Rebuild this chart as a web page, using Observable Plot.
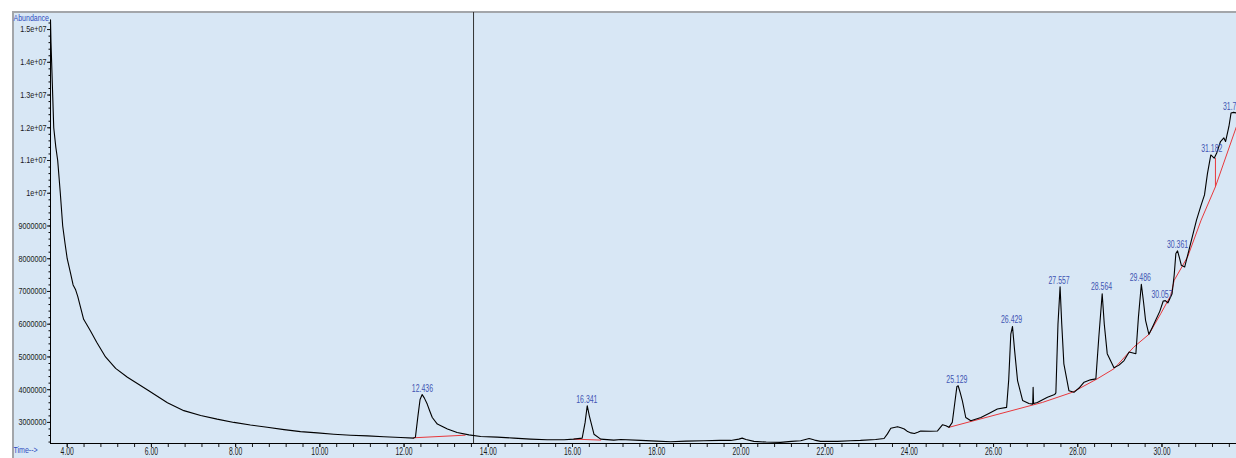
<!DOCTYPE html>
<html>
<head>
<meta charset="utf-8">
<script src="https://cdn.jsdelivr.net/npm/d3@7"></script>
<script src="https://cdn.jsdelivr.net/npm/@observablehq/plot@0.6"></script>
<style>
  html, body { margin: 0; padding: 0; background: #ffffff; }
  #wrap { position: relative; width: 1236px; height: 458px; overflow: hidden; }
  #bg { position: absolute; left: 12px; top: 11px; right: 0; bottom: 0;
        background: #d8e7f5; border-top: 2px solid #a3a6aa; border-left: 2px solid #a3a6aa; }
  #chart { position: absolute; left: 0; top: 0; }
</style>
</head>
<body>
<div id="wrap"><div id="bg"></div><div id="chart"></div></div>
<script>
// ---- Chromatogram trace (retention time in minutes, abundance) ----
const traceTime = [
  3.603, 3.615, 3.63, 3.655, 3.68, 3.73, 3.774, 3.836, 3.893, 3.95, 4.00, 4.08, 4.14, 4.20, 4.25,
  4.32, 4.39, 4.46, 4.55, 4.70, 4.91, 5.15, 5.43, 5.90, 6.38, 6.77, 7.17, 7.56, 7.96,
  8.35, 8.75, 9.15, 9.54, 9.94, 10.33, 10.73, 11.13, 11.52, 11.92, 12.23, 12.27, 12.33, 12.38, 12.43, 12.48,
  12.55, 12.61, 12.67, 12.79, 13.03, 13.26, 13.54, 13.82, 14.21, 14.61, 15.00, 15.40, 15.80, 16.03,
  16.23, 16.30, 16.35, 16.40, 16.43, 16.51, 16.67, 16.98, 17.15, 17.62, 18.00, 18.33, 18.70, 19.12,
  19.50, 19.76, 19.95, 20.03, 20.12, 20.31, 20.60, 20.94, 21.20, 21.42, 21.62, 21.75, 21.89, 22.29,
  22.60, 22.84, 23.20, 23.40, 23.48, 23.56, 23.72, 23.80, 23.88, 23.96, 24.04, 24.12, 24.20, 24.27,
  24.50, 24.67, 24.79, 24.87, 24.94, 25.02, 25.08, 25.13, 25.16, 25.21, 25.26, 25.34, 25.46, 25.70,
  25.90, 26.09, 26.31, 26.36, 26.41, 26.45, 26.50, 26.57, 26.69, 26.84, 26.93, 26.94, 26.95, 27.04,
  27.28, 27.45, 27.48, 27.53, 27.58, 27.62, 27.67, 27.79, 27.91, 28.03, 28.15, 28.30, 28.43, 28.50,
  28.58, 28.63, 28.70, 28.86, 28.98, 29.10, 29.22, 29.38, 29.44, 29.51, 29.56, 29.61, 29.69, 29.77,
  29.85, 29.95, 30.03, 30.08, 30.14, 30.24, 30.29, 30.33, 30.37, 30.42, 30.46, 30.54, 30.66, 30.82,
  30.92, 31.01, 31.08, 31.16, 31.24, 31.30, 31.39, 31.47, 31.51, 31.59, 31.64, 31.70, 31.77
];
const traceAbundance = [
  15300000, 14600000, 14000000, 13000000, 12000000, 11400000, 11000000, 10000000, 9000000, 8450000, 8000000, 7550000, 7200000, 7050000, 6850000,
  6500000, 6150000, 6000000, 5800000, 5450000, 5000000, 4650000, 4380000, 4000000, 3600000, 3360000, 3210000, 3100000, 3000000,
  2920000, 2850000, 2780000, 2720000, 2680000, 2640000, 2610000, 2590000, 2560000, 2540000, 2520000, 2550000, 3200000, 3700000, 3850000, 3750000,
  3560000, 3350000, 3150000, 2950000, 2800000, 2690000, 2620000, 2570000, 2550000, 2520000, 2490000, 2470000, 2470000, 2490000,
  2520000, 3000000, 3510000, 3200000, 3050000, 2640000, 2490000, 2460000, 2480000, 2450000, 2430000, 2410000, 2430000, 2440000,
  2450000, 2450000, 2490000, 2520000, 2480000, 2420000, 2400000, 2390000, 2420000, 2440000, 2510000, 2460000, 2420000, 2420000,
  2440000, 2450000, 2480000, 2510000, 2650000, 2820000, 2870000, 2840000, 2800000, 2720000, 2680000, 2660000, 2700000, 2740000,
  2730000, 2740000, 2930000, 2900000, 2850000, 3000000, 3600000, 4100000, 4120000, 3900000, 3660000, 3150000, 3050000, 3150000,
  3280000, 3410000, 3460000, 4300000, 5700000, 5930000, 5200000, 4280000, 3670000, 3580000, 3560000, 4070000, 3580000, 3610000,
  3770000, 3850000, 3900000, 6000000, 7140000, 6000000, 4790000, 3970000, 3920000, 4050000, 4230000, 4300000, 4330000, 5600000,
  6930000, 6000000, 5100000, 4670000, 4750000, 4890000, 5150000, 5100000, 6200000, 7220000, 6700000, 6120000, 5690000, 5900000,
  6120000, 6400000, 6710000, 6720000, 6650000, 6930000, 7500000, 8160000, 8240000, 8000000, 7800000, 7750000, 8360000, 9180000,
  9600000, 9950000, 10600000, 11170000, 11070000, 11230000, 11580000, 11690000, 11580000, 12040000, 12450000, 12470000, 12450000
];

// ---- Integration baselines (red), by segment ----
const baseSegment = [1, 1, 2, 2, 3, 3, 3, 3, 3, 3, 3, 3, 3, 3, 3, 3, 3, 3, 4, 4];
const baseTime = [12.22, 13.45, 16.03, 16.67, 24.94, 27.16, 27.87, 28.46, 28.86, 29.33, 29.69, 29.97, 30.21, 30.29, 30.61, 30.93, 31.27, 31.77, 31.27, 31.27];
const baseAbundance = [2530000, 2610000, 2490000, 2460000, 2850000, 3610000, 3920000, 4330000, 4640000, 5300000, 5690000, 6320000, 6880000, 7340000, 8060000, 9180000, 10200000, 12040000, 10200000, 11070000];

// ---- Peak labels ----
const peakLabels = ["12.436", "16.341", "25.129", "26.429", "27.557", "28.564", "29.486", "30.057", "30.361", "31.182", "31.771"];
const peakTime = [12.436, 16.341, 25.129, 26.429, 27.557, 28.564, 29.486, 30.0, 30.37, 31.182, 31.70];
const peakApex = [3850000, 3510000, 4120000, 5930000, 7130000, 6940000, 7220000, 6720000, 8230000, 11170000, 12450000];

// ---- Axis ticks ----
const xTicks = [4, 6, 8, 10, 12, 14, 16, 18, 20, 22, 24, 26, 28, 30];
const yTicks = [3000000, 4000000, 5000000, 6000000, 7000000, 8000000, 9000000, 10000000, 11000000, 12000000, 13000000, 14000000, 15000000];
const cursorTime = [13.65];

const trace = traceTime.map((t, i) => ({t, a: traceAbundance[i]}));
const base = baseTime.map((t, i) => ({t, a: baseAbundance[i], s: baseSegment[i]}));
const peaks = peakLabels.map((label, i) => ({label, t: peakTime[i], a: peakApex[i]}));

const xMin = 3.603, xMax = 31.77, yMin = 2356000, yMax = 15460000;
const xMinor = d3.range(3.6, 31.8, 0.4).filter(v => v >= xMin && v <= xMax);
const yMinor = d3.range(2400000, 15400000, 200000);

const yFormat = d => d >= 1e7 ? (d === 1e7 ? "1" : (d / 1e7).toFixed(1)) + "e+07" : d3.format("d")(d);
const FONT = "'Liberation Sans', Arial, sans-serif";

const chart = Plot.plot({
  width: 1236,
  height: 458,
  marginLeft: 50,
  marginRight: 0,
  marginTop: 14,
  marginBottom: 15,
  style: {background: "transparent", fontFamily: FONT, fontSize: "10px", color: "#1a1a1a", overflow: "visible"},
  x: {domain: [xMin, xMax]},
  y: {domain: [yMin, yMax]},
  marks: [
    Plot.ruleX(cursorTime, {stroke: "#333333", strokeWidth: 1, insetTop: -2}),
    Plot.line(base, {x: "t", y: "a", z: "s", stroke: "#e8383c", strokeWidth: 1}),
    Plot.line(trace, {x: "t", y: "a", stroke: "#000000", strokeWidth: 1.1}),
    Plot.axisY({ticks: yMinor, tickSize: 1.5, text: null, label: null, stroke: "#000"}),
    Plot.axisY({ticks: yTicks, tickFormat: yFormat, tickSize: 3, tickPadding: 1, label: null, fontSize: 9}),
    Plot.axisX({ticks: xMinor, tickSize: 4, text: null, label: null}),
    Plot.axisX({ticks: xTicks, tickFormat: d3.format(".2f"), tickSize: 4, tickPadding: 0, label: null, fontSize: 10}),
    Plot.ruleX([xMin], {stroke: "#000", insetTop: 7}),
    Plot.ruleY([yMin], {stroke: "#000"}),
    Plot.text(peaks, {x: "t", y: "a", text: "label", dy: -3, lineAnchor: "bottom", fill: "#3f55b3", fontSize: 10.5}),
    Plot.text(["Abundance"], {frameAnchor: "top-left", dx: -37, dy: 0, textAnchor: "start", fill: "#2f4cc0", fontSize: 9}),
    Plot.text(["Time-->"], {frameAnchor: "bottom-left", dx: -37, dy: 9, textAnchor: "start", fill: "#2f4cc0", fontSize: 9})
  ]
});
document.getElementById("chart").appendChild(chart);

// Condense the lettering to match the narrow instrument font
d3.select(chart).selectAll("text").each(function() {
  const g = this.closest("g[aria-label]");
  const role = g ? g.getAttribute("aria-label") : "";
  const txt = this.textContent;
  let k = 0.66;
  if (role === "y-axis tick label") k = 0.8;
  else if (role === "x-axis tick label") k = 0.68;
  else if (txt === "Abundance" || txt === "Time-->") k = 0.78;
  const w = this.getComputedTextLength();
  if (w > 0) {
    this.setAttribute("textLength", (w * k).toFixed(2));
    this.setAttribute("lengthAdjust", "spacingAndGlyphs");
  }
});
</script>
</body>
</html>
